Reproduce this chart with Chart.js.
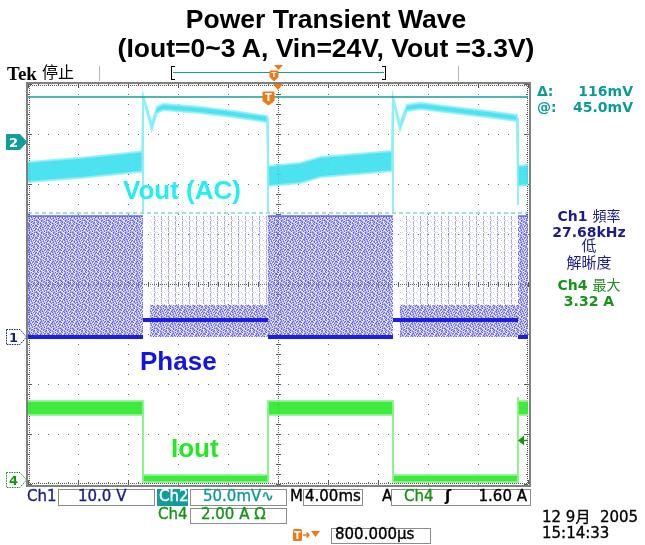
<!DOCTYPE html>
<html>
<head>
<meta charset="utf-8">
<title>Power Transient Wave</title>
<script src="https://cdn.jsdelivr.net/npm/chart.js@4.4.1/dist/chart.umd.min.js"></script>
<style>
  html, body { margin: 0; padding: 0; background: #fff; }
  #page { position: relative; width: 645px; height: 545px; overflow: hidden; background: #fff;
          font-family: "DejaVu Sans", "Noto Sans CJK TC", sans-serif; }
  #scope { position: absolute; left: 0; top: 0; }
  .t { position: absolute; white-space: pre; line-height: 1; }
  .ro { -webkit-text-stroke: 0.35px currentColor; }
  .box { position: absolute; box-sizing: border-box; border: 1px solid #8c8c8c; background: #fff; }
  .cjk { font-weight: normal; }
</style>
</head>
<body>
<div id="page">
  <canvas id="scope" width="645" height="545"></canvas>
</div>
<script>
'use strict';

// time base 4.00 ms/div, 0 = centre of the screen
var timeMin = -20, timeMax = 20;
// load steps on screen (ms) and which stretches are at full load
var segEdges = [-20, -10.8, -0.8, 9.2, 19.2, 20];
var heavyLoad = [true, false, true, false, true];

// Ch4 Iout (A)
var ioutMean   = [2.88, 0.06, 2.88, 0.06, 2.88];
var ioutSpread = [0.28, 0.14, 0.28, 0.14, 0.28];
var ioutEdgeT   = [-10.8, -0.8, 9.2, 19.2];
var ioutEdgeTop = [2.9, 2.9, 2.9, 3.32];

// Ch1 phase node (V)
var phaseRest  = [0, 3.4, 0, 3.4, 0];          // dense line where the node sits
var phaseCloud = [24.2, 6.4, 24.2, 6.4, 24.2]; // top of the dense switching cloud
var phaseVin = 24.2;
var ringDelay = 0.55;                          // ms quiet after a load release

// Ch2 Vout AC (mV)
var voutT      = [-20, -15.5, -10.86, -10.78, -10.1, -9.7, -9.2, -6.2, -3.6, -0.86, -0.78, 1.8, 3.4, 9.12, 9.2, 9.76, 10.3, 11.4, 14.0, 16.7, 19.12, 19.2, 20];
var voutMid    = [-30, -25.5, -19.5, 45, 15, 32, 35, 32, 28, 23, -34, -31, -25, -19, 44, 15, 34, 36, 32, 28, 24, -34, -33];
var voutSpread = [10, 10, 10, 1.5, 3, 3, 3, 3, 3, 3, 10, 10, 10, 10, 1.5, 3, 3, 3, 3, 3, 3, 10, 10];
var voutSpikeT   = [-10.8, -0.8, 9.2, 19.2];
var voutSpikeTop = [45, 24, 44, 24];
var voutSpikeBot = [-70, -70, -70, -63];

// cursors on Ch2
var cursorAt = 45.0, cursorDelta = 116;

// trigger: Ch4 rising edge
var trigLevel = 1.60, trigTime = -0.8;

// volts/div and ground position (div from centre)
var ch1Div = 10, ch1Pos = -1.06;
var ch2Div = 50, ch2Pos = 2.84;
var ch4Div = 2,  ch4Pos = -3.92;

var navy = '#1c1c8a', teal = '#0f9a9a', green = '#179317', orange = '#f07818';

function onCh1(v) { return v / ch1Div + ch1Pos; }
function onCh2(v) { return v / ch2Div + ch2Pos; }
function onCh4(v) { return v / ch4Div + ch4Pos; }

function segLine(vals, conv, gaps) {
  var pts = [];
  for (var i = 0; i < vals.length; i++) {
    pts.push({ x: segEdges[i], y: conv(vals[i]) }, { x: segEdges[i + 1], y: conv(vals[i]) });
    if (gaps && i < vals.length - 1) pts.push({ x: segEdges[i + 1], y: null });
  }
  return pts;
}
function edgeLines(ts, tops, bots, conv) {
  var pts = [];
  ts.forEach(function (t, i) {
    pts.push({ x: t, y: conv(tops[i]) }, { x: t, y: conv(bots[i]) }, { x: t, y: null });
  });
  return pts;
}

// Iout band
var ioutUp = segLine(ioutMean.map(function (m, i) { return m + ioutSpread[i]; }), onCh4);
var ioutLo = segLine(ioutMean.map(function (m, i) { return m - ioutSpread[i]; }), onCh4);

// Vout band
var voutUp = voutT.map(function (t, i) { return { x: t, y: onCh2(voutMid[i] + voutSpread[i]) }; });
var voutLo = voutT.map(function (t, i) { return { x: t, y: onCh2(voutMid[i] - voutSpread[i]) }; });

// phase node cloud, sparse streaks and top edge
var cloudPts = [], sparsePts = [], topEdge = [];
for (var i = 0; i < heavyLoad.length; i++) {
  var s = segEdges[i], e = segEdges[i + 1];
  if (heavyLoad[i]) {
    cloudPts.push({ x: s, y: onCh1(phaseCloud[i]) }, { x: e, y: onCh1(phaseCloud[i]) });
    sparsePts.push({ x: s, y: onCh1(phaseVin) }, { x: e, y: onCh1(phaseVin) });
    topEdge.push({ x: s, y: onCh1(phaseVin) }, { x: e, y: onCh1(phaseVin) }, { x: e, y: null });
  } else {
    cloudPts.push({ x: s, y: onCh1(0) }, { x: s + ringDelay, y: onCh1(0) },
                  { x: s + ringDelay, y: onCh1(phaseCloud[i]) }, { x: e, y: onCh1(phaseCloud[i]) });
    sparsePts.push({ x: s, y: onCh1(0) }, { x: s + ringDelay, y: onCh1(0) },
                   { x: s + ringDelay, y: onCh1(phaseVin) }, { x: e, y: onCh1(phaseVin) });
  }
}

// fill textures for the persistence display
function makePattern(rows, bg, inks) {
  var c = document.createElement('canvas');
  c.width = rows[0].length; c.height = rows.length;
  var g = c.getContext('2d');
  g.fillStyle = bg; g.fillRect(0, 0, c.width, c.height);
  rows.forEach(function (r, y) {
    for (var x = 0; x < r.length; x++) {
      if (inks[r[x]]) { g.clearRect(x, y, 1, 1); g.fillStyle = inks[r[x]]; g.fillRect(x, y, 1, 1); }
    }
  });
  return g.createPattern(c, 'repeat');
}
var cloudFill = makePattern([
  '#.+ #  +.# +',
  ' +#. + #  .#',
  '. # +#. + # ',
  '+ .#  + #.+ ',
  '#+ . #+ . #+',
  ' #+ .# +#  .',
  '+ # +. # +#.',
  '.#  #+ . #+ ',
  ' +#. + #. + ',
  '# . +#  +#.#',
  '+#. # +.#  +',
  ' . #+ #+ .# '
], 'rgba(150,150,244,0.55)', { '#': 'rgba(82,82,232,0.9)', '+': 'rgba(118,118,240,0.75)', '.': 'rgba(255,255,255,0.85)' });
var streakFill = makePattern([
  '#   +  ',
  '#      ',
  '+    . ',
  '#      ',
  ' + +   ',
  '#      '
], 'rgba(0,0,0,0)', { '#': 'rgba(105,105,238,0.6)', '+': 'rgba(135,135,242,0.45)', '.': 'rgba(150,150,244,0.3)' });

var graticule = {
  id: 'graticule',
  beforeDatasetsDraw: function (chart) {
    var ctx = chart.ctx, a = chart.chartArea, xs = chart.scales.x, ys = chart.scales.y;
    var cx = Math.round(xs.getPixelForValue(0)), cy = Math.round(ys.getPixelForValue(0));
    var i, j, px, py;
    ctx.save();
    ctx.fillStyle = '#707070';
    for (i = 1; i < 10; i++) {
      if (i === 5) continue;
      px = Math.round(xs.getPixelForValue(timeMin + i * 4));
      for (j = 0; j <= 40; j++) { py = Math.round(ys.getPixelForValue(-4 + j * 0.2)); ctx.fillRect(px, py, 1, 1); }
    }
    for (i = 1; i < 8; i++) {
      if (i === 4) continue;
      py = Math.round(ys.getPixelForValue(-4 + i));
      for (j = 0; j <= 50; j++) { px = Math.round(xs.getPixelForValue(timeMin + j * 0.8)); ctx.fillRect(px, py, 1, 1); }
    }
    ctx.fillStyle = '#5a5a5a';
    for (px = a.left; px <= a.right; px += 2) ctx.fillRect(px, cy, 1, 1);
    for (py = a.top; py <= a.bottom; py += 2) ctx.fillRect(cx, py, 1, 1);
    for (j = 0; j <= 50; j++) {
      px = Math.round(xs.getPixelForValue(timeMin + j * 0.8));
      ctx.fillRect(px, cy - 2, 1, 5);
      var L = j % 5 ? 2 : 4;
      ctx.fillRect(px, a.top, 1, L);
      ctx.fillRect(px, a.bottom - L, 1, L);
    }
    for (j = 0; j <= 40; j++) {
      py = Math.round(ys.getPixelForValue(-4 + j * 0.2));
      ctx.fillRect(cx - 2, py, 5, 1);
      var M = j % 5 ? 2 : 4;
      ctx.fillRect(a.left, py, M, 1);
      ctx.fillRect(a.right - M, py, M, 1);
    }
    for (px = a.left; px <= a.right; px += 2) { ctx.fillRect(px, a.top + 1, 1, 1); ctx.fillRect(px, a.bottom - 1, 1, 1); }
    for (py = a.top; py <= a.bottom; py += 2) { ctx.fillRect(a.left + 1, py, 1, 1); ctx.fillRect(a.right - 1, py, 1, 1); }
    ctx.restore();
  },
  afterDraw: function (chart) {
    var ctx = chart.ctx, a = chart.chartArea, xs = chart.scales.x, ys = chart.scales.y;
    ctx.save();
    ctx.fillStyle = '#808080';
    ctx.fillRect(a.left - 2, a.top - 2, a.right - a.left + 4, 2);
    ctx.fillRect(a.left - 2, a.bottom + 1, a.right - a.left + 4, 2);
    ctx.fillRect(a.left - 2, a.top - 2, 2, a.bottom - a.top + 5);
    ctx.fillRect(a.right + 1, a.top - 2, 2, a.bottom - a.top + 5);
    // horizontal position marker
    var hx = xs.getPixelForValue(0);
    ctx.fillStyle = orange;
    ctx.beginPath(); ctx.moveTo(hx - 5, a.top); ctx.lineTo(hx + 5, a.top); ctx.lineTo(hx, a.top + 6); ctx.closePath(); ctx.fill();
    // trigger level arrow on Ch4
    var ty = Math.round(ys.getPixelForValue(onCh4(trigLevel))) + 0.5;
    ctx.fillStyle = '#1d8f1d'; ctx.strokeStyle = '#1d8f1d'; ctx.lineWidth = 1.5;
    ctx.beginPath(); ctx.moveTo(a.right - 10, ty); ctx.lineTo(a.right - 4, ty - 5); ctx.lineTo(a.right - 4, ty + 5); ctx.closePath(); ctx.fill();
    ctx.beginPath(); ctx.moveTo(a.right - 5, ty); ctx.lineTo(a.right, ty); ctx.stroke();
    ctx.restore();
  }
};

function flat(y) { return [{ x: timeMin, y: y }, { x: timeMax, y: y }]; }

var chart = new Chart(document.getElementById('scope'), {
  type: 'line',
  data: {
    datasets: [
      { data: flat(onCh2(cursorAt)), borderColor: '#159c9c', borderWidth: 1.5, order: 1 },
      { data: flat(onCh2(cursorAt - cursorDelta)), borderColor: '#38c4c4', borderWidth: 1.2, borderDash: [4, 3], order: 1 },
      { data: voutLo, borderColor: 'rgba(140,240,248,0.85)', borderWidth: 2, fill: false, order: 4 },
      { data: voutUp, borderColor: 'rgba(140,240,248,0.85)', borderWidth: 2, backgroundColor: 'rgba(52,222,238,0.88)', fill: '-1', order: 4 },
      { data: edgeLines(voutSpikeT, voutSpikeTop, voutSpikeBot, onCh2), borderColor: 'rgba(90,225,240,0.55)', borderWidth: 1, order: 5 },
      { data: cloudPts, borderWidth: 0, borderColor: 'rgba(0,0,0,0)', backgroundColor: cloudFill, fill: { value: onCh1(0) }, order: 6 },
      { data: sparsePts, borderWidth: 0, borderColor: 'rgba(0,0,0,0)', backgroundColor: streakFill, fill: '-1', order: 6 },
      { data: topEdge, borderColor: 'rgba(80,80,232,0.65)', borderWidth: 2, order: 3 },
      { data: segLine(phaseRest, onCh1, true), borderColor: '#1e1ee2', borderWidth: 4, order: 2 },
      { data: edgeLines(ioutEdgeT, ioutEdgeTop, [0, 0, 0, 0], onCh4), borderColor: 'rgba(90,230,90,0.6)', borderWidth: 1, order: 5 },
      { data: ioutLo, borderColor: 'rgba(140,244,140,0.85)', borderWidth: 2, fill: false, order: 4 },
      { data: ioutUp, borderColor: 'rgba(140,244,140,0.85)', borderWidth: 2, backgroundColor: 'rgba(45,232,45,0.92)', fill: '-1', order: 4 }
    ]
  },
  options: {
    responsive: false,
    animation: false,
    events: [],
    layout: { padding: { left: 28, right: 117, top: 84, bottom: 61 } },
    scales: {
      x: { type: 'linear', min: timeMin, max: timeMax, display: false },
      y: { type: 'linear', min: -4, max: 4, display: false }
    },
    elements: { point: { radius: 0 }, line: { tension: 0 } },
    plugins: { legend: { display: false }, tooltip: { enabled: false }, title: { display: false } }
  },
  plugins: [graticule]
});

// ---- text and on-screen readouts ----
var page = document.getElementById('page');
var LS = '"Liberation Sans", Arial, sans-serif';

function put(html, x, base, size, color, opt) {
  opt = opt || {};
  var d = document.createElement('div');
  d.className = opt.ro ? 't ro' : 't';
  d.innerHTML = html;
  d.style.fontSize = size + 'px';
  d.style.top = (base - size * (opt.k || 0.846)) + 'px';
  d.style.color = color;
  if (opt.font) d.style.fontFamily = opt.font;
  if (opt.bold) d.style.fontWeight = 'bold';
  if (opt.align === 'center') {
    d.style.left = (x - 250) + 'px'; d.style.width = '500px'; d.style.textAlign = 'center';
  } else if (opt.align === 'right') {
    d.style.left = (x - 300) + 'px'; d.style.width = '300px'; d.style.textAlign = 'right';
  } else {
    d.style.left = x + 'px';
  }
  page.appendChild(d);
  return d;
}
function box(x, y, w, h, bg, bd) {
  var d = document.createElement('div');
  d.className = 'box';
  d.style.left = x + 'px'; d.style.top = y + 'px';
  d.style.width = w + 'px'; d.style.height = h + 'px';
  if (bg) d.style.background = bg;
  if (bd) d.style.borderColor = bd;
  page.appendChild(d);
  return d;
}
function svg(x, y, w, h, inner) {
  page.insertAdjacentHTML('beforeend', '<svg width="' + w + '" height="' + h + '" style="position:absolute;left:' + x +
    'px;top:' + y + 'px;overflow:visible">' + inner + '</svg>');
}

// title
put('Power Transient Wave', 326, 28, 26.5, '#000', { font: LS, bold: true, align: 'center' });
put('(Iout=0~3 A, Vin=24V, Vout =3.3V)', 326, 57, 26.5, '#000', { font: LS, bold: true, align: 'center' });

// status bar
put('Tek', 7, 80, 19, '#000', { font: '"Liberation Serif", serif', bold: true, k: 0.8375 });
put('停止', 42, 79, 16, '#000');
var bar = document.createElement('div');
bar.style.cssText = 'position:absolute;left:99px;top:66px;width:358px;height:15px;border-left:1px solid #b4b4b4;border-right:1px solid #b4b4b4;';
page.appendChild(bar);
var rec = document.createElement('div');
rec.style.cssText = 'position:absolute;left:171px;top:66px;width:215px;height:13px;';
rec.innerHTML = '<div style="position:absolute;left:0;top:0;width:3px;height:12px;border:1px solid #000;border-right:none"></div>' +
  '<div style="position:absolute;right:0;top:0;width:3px;height:12px;border:1px solid #000;border-left:none"></div>' +
  '<div style="position:absolute;left:2px;right:2px;top:6px;height:1px;background:#159c9c"></div>';
page.appendChild(rec);

var xs = chart.scales.x, ys = chart.scales.y, area = chart.chartArea;
var hx = xs.getPixelForValue(0), tx = xs.getPixelForValue(trigTime);

function tShape(w, h) {
  return '<path d="M1.5 0.5 H' + (w - 1.5) + ' Q' + (w - 0.5) + ' 0.5 ' + (w - 0.5) + ' 2 V' + (h - 5) + ' L' + (w / 2) + ' ' + (h - 0.5) +
    ' L0.5 ' + (h - 5) + ' V2 Q0.5 0.5 1.5 0.5 Z" fill="' + orange + '"/>' +
    '<text x="' + (w / 2) + '" y="' + (h - 5) + '" font-family="DejaVu Sans" font-weight="bold" font-size="' + (h - 5) +
    '" fill="#fff" text-anchor="middle">T</text>';
}
// record bar markers
svg(hx - 4, 65, 9, 5, '<path d="M0 0 H9 L4.5 5 Z" fill="' + orange + '"/>');
svg(tx + 1, 70, 10, 12, tShape(10, 12));
// trigger point marker in the graticule
svg(tx - 6, area.top + 7, 13, 15, tShape(13, 15));

// channel ground markers
function gnd(num, yPix, fill, stroke, txt) {
  var dash = fill === 'none' ? ' stroke-dasharray="1.5,1"' : '';
  svg(6, Math.round(yPix) - 8, 22, 16,
    '<path d="M0.5 0.5 H14 L20.5 8 L14 15.5 H0.5 Z" fill="' + (fill === 'none' ? '#fff' : fill) + '" stroke="' + stroke + '"' + dash + '/>' +
    '<text x="7.5" y="13" font-family="DejaVu Sans" font-weight="bold" font-size="13" fill="' + txt + '" text-anchor="middle">' + num + '</text>');
}
gnd('2', ys.getPixelForValue(ch2Pos), '#139c9c', '#139c9c', '#fff');
gnd('1', ys.getPixelForValue(ch1Pos), 'none', navy, navy);
gnd('4', ys.getPixelForValue(ch4Pos), 'none', green, green);

// trace labels
put('Vout (AC)', 123, 199, 26, '#1ff0f5', { font: LS, bold: true });
put('Phase', 140, 370, 26, '#1414e6', { font: LS, bold: true });
put('Iout', 171, 457, 26, '#22ea22', { font: LS, bold: true });

// cursor readout
put('Δ:', 537, 96, 14, teal, { bold: true });
put('116mV', 633, 96, 14, teal, { bold: true, align: 'right' });
put('@:', 537, 112, 14, teal, { bold: true });
put('45.0mV', 633, 112, 14, teal, { bold: true, align: 'right' });

// measurements
put('Ch1 <span class="cjk">頻率</span>', 589, 221, 14, navy, { bold: true, align: 'center' });
put('27.68kHz', 589, 237, 14, navy, { bold: true, align: 'center' });
put('低', 589, 252, 15, navy, { align: 'center' });
put('解晰度', 589, 269, 15, navy, { align: 'center' });
put('Ch4 <span class="cjk">最大</span>', 589, 290, 14, green, { bold: true, align: 'center' });
put('3.32 A', 589, 306, 14, green, { bold: true, align: 'center' });

// bottom settings
put('Ch1', 27, 502, 15, navy, { ro: true });
box(58, 489, 97, 17);
put('10.0 V', 78, 502, 15, navy, { ro: true });
box(157, 489, 31, 17, '#139c9c', '#139c9c');
put('Ch2', 159, 502, 15, '#fff', { ro: true });
box(190, 489, 97, 17);
put('50.0mV∿', 203, 502, 15, teal, { ro: true });
put('M', 290, 502, 15, '#000', { ro: true });
box(303, 489, 60, 17);
put('4.00ms', 305, 502, 15, '#000', { ro: true });
put('A', 382, 502, 15, '#000', { ro: true });
box(391, 489, 140, 17);
put('Ch4', 404, 502, 15, green, { ro: true });
put('ʃ', 445, 502, 15, '#000', { bold: true });
put('1.60 A', 527, 502, 15, '#000', { align: 'right', ro: true });
put('Ch4', 158, 520, 15, green, { ro: true });
box(190, 508, 97, 16);
put('2.00 A Ω', 201, 520, 15, green, { ro: true });
svg(293, 529, 32, 13, '<rect x="0" y="0" width="9" height="12" rx="1.5" fill="' + orange + '"/>' +
  '<text x="4.5" y="10" font-family="DejaVu Sans" font-weight="bold" font-size="10" fill="#fff" text-anchor="middle">T</text>' +
  '<path d="M10 6 H16 M13.5 3.5 L16 6 L13.5 8.5" stroke="' + orange + '" stroke-width="1.5" fill="none"/>' +
  '<path d="M18 2 H27 L22.5 8 Z" fill="' + orange + '"/>');
box(331, 528, 100, 16);
put('800.000μs', 335, 540, 15, '#000', { ro: true });
put('12 9月  2005', 542, 523, 15, '#000', { ro: true });
put('15:14:33', 542, 539, 15, '#000', { ro: true });
</script>
</body>
</html>
